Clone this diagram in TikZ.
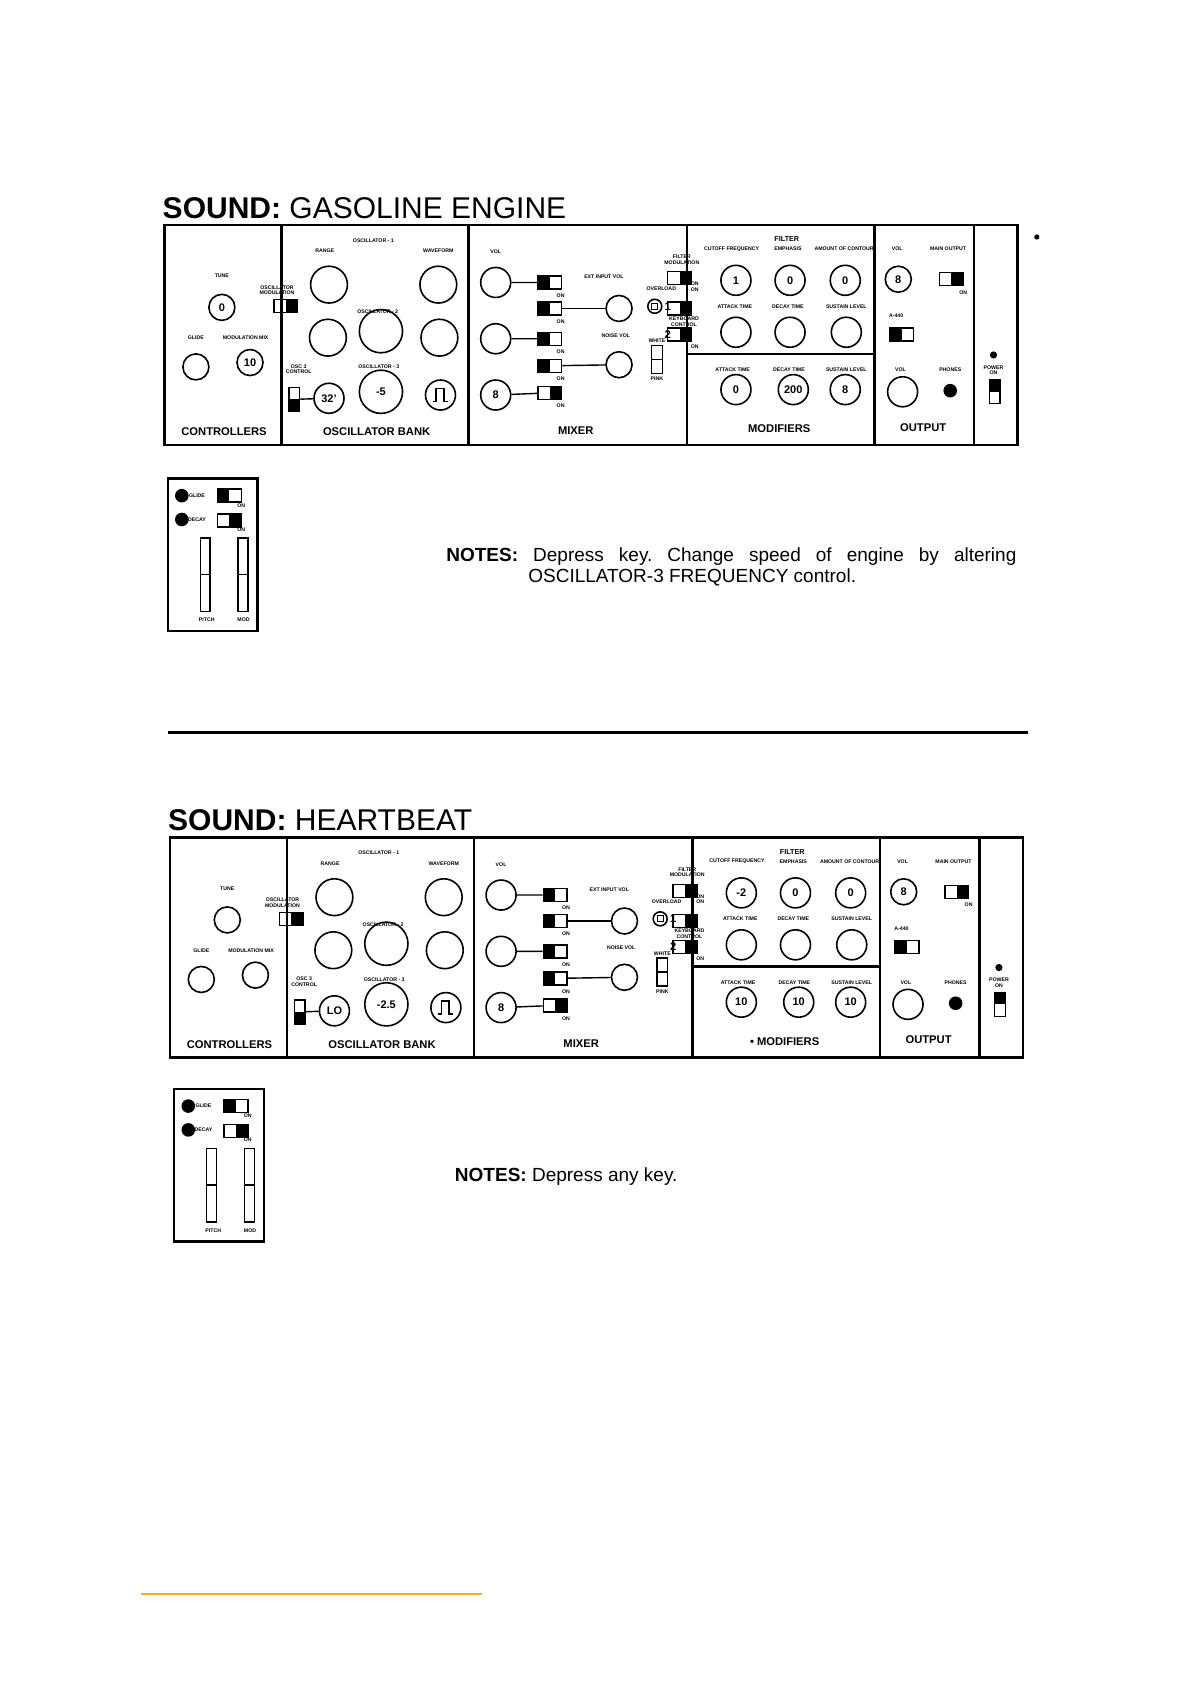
\documentclass[tikz,border=0pt]{standalone}
\usepackage{fontspec}
\setmainfont{Liberation Sans}
\begin{document}
\begin{tikzpicture}[x=0.541pt,y=-0.541pt,
 lab/.style={font=\bfseries\fontsize{2.6}{2.8}\selectfont,inner sep=0,align=center},
 sec/.style={font=\bfseries\fontsize{5.6}{6}\selectfont,inner sep=0},
 val/.style={font=\bfseries\fontsize{5.5}{6}\selectfont},
 knobS/.style={circle,draw,line width=0.8pt,minimum size=13pt,inner sep=0,val},
 knobM/.style={circle,draw,line width=0.8pt,minimum size=15pt,inner sep=0,val},
 knobL/.style={circle,draw,line width=0.8pt,minimum size=18.4pt,inner sep=0,val},
 knobXL/.style={circle,draw,line width=0.8pt,minimum size=21.6pt,inner sep=0,val},
 swbox/.style={draw,line width=0.7pt,minimum width=11.9pt,minimum height=6.5pt,inner sep=0},
 vswbox/.style={draw,line width=0.7pt,minimum width=5.4pt,minimum height=11.9pt,inner sep=0},
 frame/.style={line width=1.2pt},
 wire/.style={line width=0.7pt}]
\useasboundingbox (0,0) rectangle (1100,1556);
\newcommand{\swL}[3]{\node[swbox] (#1) at (#2,#3) {}; \fill (#1.north west) rectangle (#1.south);}
\newcommand{\swR}[3]{\node[swbox] (#1) at (#2,#3) {}; \fill (#1.north) rectangle (#1.south east);}
\newcommand{\vswD}[3]{\node[vswbox] (#1) at (#2,#3) {}; \fill (#1.west) rectangle (#1.south east);}
\newcommand{\vswU}[3]{\node[vswbox] (#1) at (#2,#3) {}; \fill (#1.north west) rectangle (#1.east);}
\newcommand{\synthpanel}[1]{%
 \draw[frame] (0,0) rectangle (788,203);
 \draw[frame] (108,0)--(108,203) (281,0)--(281,203) (483,0)--(483,203) (656,0)--(656,203) (748,0)--(748,203) (483,119)--(656,119);
 % controllers
 \node[lab] (#1tl) at (53,47) {TUNE};
 \node[knobS] (#1tune) at (53,76) {\vTune};
 \node[lab] (#1oml) at (104,60) {OSCILLATOR\\MODULATION};
 \swR{#1om}{112}{75}
 \node[lab] (#1gl) at (29,104) {GLIDE};
 \node[knobS] (#1glide) at (29,131) {\vGlide};
 \node[lab] (#1mml) at (75,104) {MODULATION MIX};
 \node[knobS] (#1mm) at (79,127) {\vMix};
 \node[sec] (#1ctl) at (55,191) {CONTROLLERS};
 % oscillator bank
 \node[lab] (#1o1) at (193,14) {OSCILLATOR - 1};
 \node[lab] (#1rg) at (148,24) {RANGE};
 \node[lab] (#1wf) at (253,24) {WAVEFORM};
 \node[knobL] (#1a1) at (152,55) {}; \node[knobL] (#1a3) at (253,55) {};
 \node[lab] (#1o2) at (197,80) {OSCILLATOR - 2};
 \node[knobL] (#1b1) at (151,104) {}; \node[knobXL] (#1b2) at (200,98) {}; \node[knobL] (#1b3) at (254,104) {};
 \node[lab] (#1o3c) at (124,133) {OSC 3\\CONTROL};
 \node[lab] (#1o3) at (198,131) {OSCILLATOR - 3};
 \vswD{#1o3s}{120}{161}
 \node[knobM] (#1c1) at (152,160) {\vRange};
 \node[knobXL] (#1c2) at (200,154) {\vFreq};
 \node[knobM] (#1c3) at (255,157) {};
 \draw[line width=0.8pt] (248,163)--(251,163)--(251,151)--(258,151)--(258,163)--(262,163);
 \draw[wire] (#1o3s)--(#1c1);
 \node[sec] (#1obl) at (196,191) {OSCILLATOR BANK};
 % mixer
 \node[lab] (#1vl) at (306,25) {VOL};
 \node[knobM] (#1m1) at (306,53) {}; \node[knobM] (#1m2) at (306,105) {}; \node[knobM] (#1m3) at (306,157) {8};
 \swL{#1s1}{356}{53} \swL{#1s2}{356}{77} \swL{#1s3}{356}{105} \swL{#1s4}{356}{130} \swR{#1s5}{356}{155}
 \foreach \yy [count=\i] in {53,77,105,130,155} {\node[lab] (#1on\i) at (366,\yy+12) {ON};}
 \draw[wire] (#1m1)--(#1s1) (#1m2)--(#1s3) (#1m3)--(#1s5);
 \node[lab] (#1eil) at (406,48) {EXT INPUT VOL};
 \node[knobS] (#1ei) at (420,77) {}; \draw[wire] (#1s2)--(#1ei);
 \node[lab] (#1nvl) at (417,102) {NOISE VOL};
 \node[knobS] (#1nv) at (420,129) {}; \draw[wire] (#1s4)--(#1nv);
 \node[lab] (#1ovl) at (459,59) {OVERLOAD};
 \node[draw,circle,line width=0.8pt,minimum size=7pt,inner sep=0] (#1ov) at (453,75) {};
 \node[draw,rectangle,line width=0.5pt,minimum size=3pt,inner sep=0] (#1ovi) at (453,75) {};
 \node[sec] (#1one) at (465,75) {1};
 \node[lab] (#1fml) at (478,32) {FILTER\\MODULATION};
 \swR{#1fm}{476}{49} \swR{#1kc1}{476}{77} \swR{#1kc2}{476}{101}
 \node[lab] (#1fmon) at (490,57) {ON\\ON};
 \node[lab] (#1kcl) at (480,89) {KEYBOARD\\CONTROL};
 \node[sec] (#1two) at (465,101) {2};
 \node[lab] (#1kon) at (490,112) {ON};
 \node[lab] (#1whl) at (455,107) {WHITE};
 \node[vswbox,minimum height=14pt] (#1wp) at (455,124) {}; \draw[wire] (#1wp.west)--(#1wp.east);
 \node[lab] (#1pkl) at (455,142) {PINK};
 \node[sec] (#1mxl) at (380,190) {MIXER};
 % filter
 \node[lab] (#1fil) at (575,13) {\fontsize{3.6}{4}\selectfont FILTER};
 \node[lab] (#1cf) at (524,22) {CUTOFF FREQUENCY};
 \node[lab] (#1em) at (576,22) {EMPHASIS};
 \node[lab] (#1ac) at (628,22) {AMOUNT OF CONTOUR};
 \node[knobM] (#1f1) at (528,51) {\vCut}; \node[knobM] (#1f2) at (578,51) {\vEmp}; \node[knobM] (#1f3) at (629,51) {\vAmt};
 \node[lab] (#1fa) at (527,75) {ATTACK TIME}; \node[lab] (#1fd) at (576,75) {DECAY TIME}; \node[lab] (#1fs) at (630,75) {SUSTAIN LEVEL};
 \node[knobM] (#1g1) at (528,99) {}; \node[knobM] (#1g2) at (578,99) {}; \node[knobM] (#1g3) at (630,99) {};
 \node[lab] (#1ma) at (525,134) {ATTACK TIME}; \node[lab] (#1md) at (577,134) {DECAY TIME}; \node[lab] (#1ms) at (630,134) {SUSTAIN LEVEL};
 \node[knobM] (#1h1) at (528,152) {\vAtt}; \node[knobM] (#1h2) at (581,152) {\vDec}; \node[knobM] (#1h3) at (629,152) {\vSus};
 \node[sec] (#1mod) at (568,188) {\modprefix MODIFIERS};
 % output
 \node[lab] (#1ovl2) at (677,22) {VOL}; \node[lab] (#1mo) at (724,22) {MAIN OUTPUT};
 \node[knobS] (#1ov1) at (678,50) {8};
 \swR{#1mos}{727}{50} \node[lab] (#1moon) at (738,62) {ON};
 \node[lab] (#1a4) at (676,84) {A-440};
 \swL{#1a4s}{681}{101}
 \node[lab] (#1vol2) at (680,134) {VOL}; \node[knobM] (#1ov2) at (682,154) {};
 \node[lab] (#1ph) at (726,134) {PHONES};
 \fill (726,153) circle[radius=3.4pt];
 \node[sec] (#1outl) at (701,187) {OUTPUT};
 % power
 \fill (766,120) circle[radius=1.8pt];
 \node[lab] (#1pw) at (766,134) {POWER\\ON};
 \vswU{#1pws}{767}{154}
}
\newcommand{\minipanel}[1]{%
 \draw[frame] (0,0) rectangle (83,141);
 \fill (13,16) circle[radius=3.4pt]; \fill (13,38) circle[radius=3.4pt];
 \node[lab] (#1gl) at (27,16) {GLIDE}; \swL{#1gs}{57}{16} \node[lab] (#1gon) at (68,25) {ON};
 \node[lab] (#1dl) at (27,38) {DECAY}; \swR{#1ds}{57}{39} \node[lab] (#1don) at (68,47) {ON};
 \draw[wire] (30,55) rectangle (39,123) (65,55) rectangle (74,123) (30,89)--(39,89) (65,89)--(74,89);
 \node[lab] (#1pl) at (36,131) {PITCH}; \node[lab] (#1ml) at (70,131) {MOD};
}
% ---------- Gasoline engine ----------
\node[anchor=base west,inner sep=0,font=\fontsize{15}{16}\selectfont] (t1) at (150,202) {\textbf{SOUND:} GASOLINE\ ENGINE};
\def\vTune{0}\def\vGlide{}\def\vMix{10}\def\vRange{32'}\def\vFreq{-5}\def\vCut{1}\def\vEmp{0}\def\vAmt{0}\def\vAtt{0}\def\vDec{200}\def\vSus{8}\def\modprefix{}
\begin{scope}[shift={(152,208)}] \synthpanel{p} \end{scope}
\begin{scope}[shift={(155,442)}] \minipanel{q} \end{scope}
\node[anchor=base west,inner sep=0,font=\fontsize{9.5}{10}\selectfont,align=left] (n1) at (412,538)
 {\hbox to 285pt{\textbf{NOTES:}\hfill Depress\hfill key.\hfill Change\hfill speed\hfill of\hfill engine\hfill by\hfill altering}\\[0.5pt]\hspace*{41pt}OSCILLATOR-3 FREQUENCY control.};
\fill (958,219) circle[radius=1.3pt];
\coordinate (sepA) at (155,677); \coordinate (sepB) at (950,677);
\draw[line width=1.3pt] (sepA)--(sepB);
% ---------- Heartbeat ----------
\node[anchor=base west,inner sep=0,font=\fontsize{15}{16}\selectfont] (t2) at (155,767) {\textbf{SOUND:} HEARTBEAT};
\def\vTune{}\def\vGlide{}\def\vMix{}\def\vRange{LO}\def\vFreq{-2.5}\def\vCut{-2}\def\vEmp{0}\def\vAmt{0}\def\vAtt{10}\def\vDec{10}\def\vSus{10}\def\modprefix{\textbullet\ }
\begin{scope}[shift={(157,774)}] \synthpanel{r} \end{scope}
\begin{scope}[shift={(161,1006)}] \minipanel{s} \end{scope}
\node[anchor=base west,inner sep=0,font=\fontsize{9.5}{11}\selectfont] (n2) at (420,1092) {\textbf{NOTES:} Depress any key.};
\definecolor{orng}{RGB}{245,170,40}
\coordinate (oA) at (130,1473); \coordinate (oB) at (445,1473);
\draw[orng,line width=1pt] (oA)--(oB);
\end{tikzpicture}
\end{document}
